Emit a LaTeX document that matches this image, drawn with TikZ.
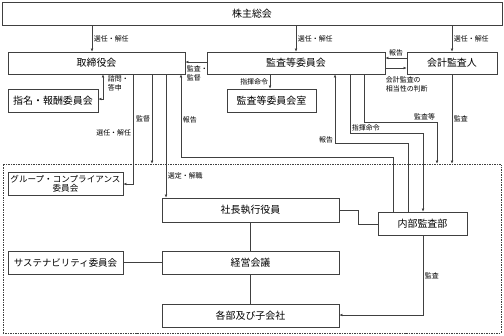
\documentclass[tikz,border=0pt]{standalone}
\usepackage{fontspec}
\setmainfont{Noto Sans CJK JP}
\usetikzlibrary{arrows.meta}

\begin{document}
\begin{tikzpicture}[x=1bp,y=-1bp,line width=0.7pt,
  box/.style={draw=black!75,line width=0.8pt,minimum height=23bp,inner sep=1pt,
    font=\fontsize{10}{11}\selectfont},
  lbl/.style={font=\fontsize{7}{8.5}\selectfont,inner sep=1.5pt},
  arr/.style={draw=black!75,-{Latex[length=3pt,width=2.8pt]}},
  ln/.style={draw=black!75}]
  \useasboundingbox (0,0) rectangle (504,335);
  % top row
  \node[box,minimum width=500bp] (gm) at (252,13.5) {株主総会};
  \node[box,minimum width=177bp,minimum height=22bp] (bod) at (96.5,63) {取締役会};
  \node[box,minimum width=178bp,minimum height=22bp] (ac) at (296,63) {監査等委員会};
  \node[box,minimum width=90bp,minimum height=22bp] (ea) at (452,63) {会計監査人};
  % second row
  \node[box,minimum width=90bp] (nom) at (53,100.5) {指名・報酬委員会};
  \node[box,minimum width=89bp] (acr) at (271.5,100.5) {監査等委員会室};
  % executive side (dashed frame)
  \node[draw=black!75,dash pattern=on 1.5pt off 1pt,line width=0.7pt,
    minimum width=498bp,minimum height=169bp] (exe) at (252,248.5) {};
  \node[box,minimum width=115bp,align=center,font=\fontsize{8.6}{9}\selectfont] (gcc) at (65.5,183.5)
    {グループ・コンプライアンス\\委員会};
  \node[box,minimum width=177bp,minimum height=24bp] (ceo) at (250.5,210) {社長執行役員};
  \node[box,minimum width=89bp] (ia) at (422.5,223.5) {内部監査部};
  \node[box,minimum width=115bp,font=\fontsize{9.5}{10}\selectfont] (sus) at (65.5,262.5) {サステナビリティ委員会};
  \node[box,minimum width=177bp] (mgt) at (250.5,262.5) {経営会議};
  \node[box,minimum width=177bp] (dep) at (250.5,315.5) {各部及び子会社};

  % general meeting
  \draw[arr] (92,0 |- gm.south) -- (92,0 |- bod.north) node[lbl,midway,right] (l1) {選任・解任};
  \draw[arr] (296,0 |- gm.south) -- (296,0 |- ac.north) node[lbl,midway,right] (l2) {選任・解任};
  \draw[arr] (452,0 |- gm.south) -- (452,0 |- ea.north) node[lbl,midway,right] (l3) {選任・解任};
  % accounting auditor / audit committee
  \draw[arr] (ea.west |- 0,58) -- (ac.east |- 0,58) node[lbl,midway,above] (l4) {報告};
  \draw[arr] (ac.east |- 0,68) -- (ea.west |- 0,68);
  \node[lbl,anchor=north west,align=left] (l5) at (384,75) {会計監査の\\相当性の判断};
  \draw[arr] (ac.west |- 0,62) -- (bod.east |- 0,62);
  \node[lbl,anchor=north west,align=left] (l6) at (185,64) {監査・\\監督};
  \draw[arr] (270,0 |- ac.south) -- (270,0 |- acr.north) node[lbl,midway,left] (l7) {指揮命令};
  % board
  \draw[arr,{Latex[length=3pt,width=2.8pt]}-{Latex[length=3pt,width=2.8pt]}]
    (103,0 |- bod.south) |- (nom.east |- 0,99);
  \node[lbl,anchor=north west,align=left] (l8) at (106,74) {諮問・\\答申};
  \draw[arr] (133,0 |- bod.south) |- (gcc.east |- 0,184);
  \node[lbl,left] (l9) at (133,133) {選任・解任};
  \draw[arr] (152,0 |- bod.south) -- (152,0 |- exe.north) node[lbl,pos=0.5,left] (l10) {監督};
  \draw[arr] (166,0 |- bod.south) -- (166,0 |- ceo.north);
  \node[lbl,right] (l11) at (166,176) {選定・解職};
  % internal audit reports
  \draw[arr] (393,0 |- ia.north) |- (181,157) -- (181,0 |- bod.south);
  \node[lbl,right] (l12) at (181,120) {報告};
  \draw[arr] (408,0 |- ia.north) |- (335,143) -- (335,0 |- ac.south);
  \node[lbl,left] (l13) at (335,140) {報告};
  \draw[arr] (350,0 |- ac.south) |- (423,133) -- (423,0 |- ia.north);
  \node[lbl,above right] (l14) at (350,133) {指揮命令};
  \draw[arr] (364,0 |- ac.south) |- (437,122) -- (437,0 |- exe.north);
  \node[lbl,above left] (l15) at (437,122) {監査等};
  \draw[arr] (452,0 |- ea.south) -- (452,0 |- exe.north) node[lbl,midway,right] (l16) {監査};
  % execution
  \draw[ln] (ceo.east |- 0,210) -| (358,224) -- (ia.west |- 0,224);
  \draw[ln] (ceo) -- (mgt);
  \draw[ln] (mgt) -- (dep);
  \draw[ln,line width=1.4pt] (sus) -- (mgt);
  \draw[arr] (423,0 |- ia.south) |- (dep.east |- 0,315);
  \node[lbl,right] (l17) at (423,276) {監査};
\end{tikzpicture}
\end{document}
